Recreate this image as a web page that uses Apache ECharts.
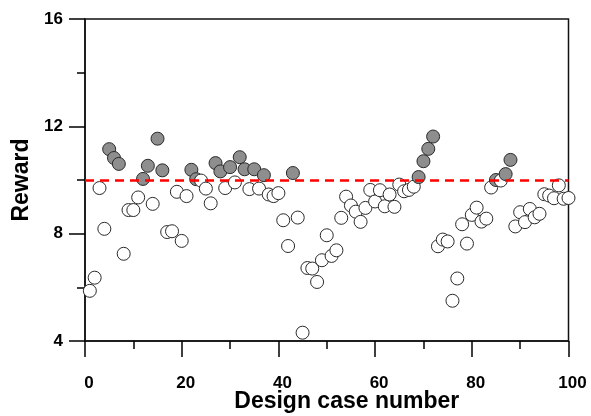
<!DOCTYPE html>
<html>
<head>
<meta charset="utf-8">
<script src="https://cdn.jsdelivr.net/npm/echarts@6/dist/echarts.min.js"></script>
<style>
  html, body { margin: 0; padding: 0; background: #fff; }
  #chart { width: 591px; height: 416px; }
</style>
</head>
<body>
<div id="chart"></div>
<script>
// Design case numbers
const cases = [
  1, 2, 3, 4, 5, 6, 7, 8, 9, 10,
  11, 12, 13, 14, 15, 16, 17, 18, 19, 20,
  21, 22, 23, 24, 25, 26, 27, 28, 29, 30,
  31, 32, 33, 34, 35, 36, 37, 38, 39, 40,
  41, 42, 43, 44, 45, 46, 47, 48, 49, 50,
  51, 52, 53, 54, 55, 56, 57, 58, 59, 60,
  61, 62, 63, 64, 65, 66, 67, 68, 69, 70,
  71, 72, 73, 74, 75, 76, 77, 78, 79, 80,
  81, 82, 83, 84, 85, 86, 87, 88, 89, 90,
  91, 92, 93, 94, 95, 96, 97, 98, 99, 100
];
// Reward of each design case
const rewards = [
  5.87, 6.36, 9.70, 8.18, 11.15, 10.82, 10.60, 7.25, 8.88, 8.88,
  9.35, 10.04, 10.53, 9.11, 11.54, 10.36, 8.06, 8.09, 9.56, 7.73,
  9.40, 10.38, 10.03, 9.98, 9.68, 9.13, 10.63, 10.32, 9.70, 10.48,
  9.91, 10.85, 10.40, 9.66, 10.40, 9.68, 10.18, 9.46, 9.40, 9.51,
  8.50, 7.54, 10.26, 8.60, 4.31, 6.72, 6.70, 6.20, 7.01, 7.94,
  7.17, 7.38, 8.59, 9.38, 9.05, 8.82, 8.44, 8.96, 9.63, 9.20,
  9.62, 9.02, 9.46, 9.00, 9.83, 9.58, 9.63, 9.75, 10.11, 10.70,
  11.16, 11.62, 7.53, 7.78, 7.71, 5.50, 6.33, 8.35, 7.63, 8.70,
  8.97, 8.45, 8.56, 9.72, 10.00, 9.98, 10.22, 10.75, 8.27, 8.80,
  8.43, 8.92, 8.61, 8.74, 9.47, 9.42, 9.32, 9.80, 9.30, 9.33
];
// Reference (threshold) reward shown by the red dashed line
const threshold = 10;
// Axis ranges / ticks
const xTicks = [0, 20, 40, 60, 80, 100];
const yTicks = [4, 8, 12, 16];

const FONT = '"Liberation Sans", Arial, sans-serif';
const chart = echarts.init(document.getElementById('chart'), null, { renderer: 'canvas' });

const points = cases.map((c, i) => ({
  value: [c, rewards[i]],
  itemStyle: { color: rewards[i] >= threshold ? '#8e8e8e' : '#ffffff' }
}));

function axisCommon() {
  return {
    axisLine: { show: true, onZero: false, lineStyle: { color: '#111111', width: 1.5 } },
    axisTick: { show: true, inside: false, length: 16, lineStyle: { color: '#000000', width: 1.5 } },
    minorTick: { show: true, splitNumber: 2, length: 8, lineStyle: { color: '#000000', width: 1.5 } },
    splitLine: { show: false },
    minorSplitLine: { show: false }
  };
}

chart.setOption({
  animation: false,
  backgroundColor: '#ffffff',
  grid: {
    left: 85, right: 22.5, top: 19, bottom: 75,
    containLabel: false,
    outerBoundsMode: 'none',
    show: true, borderColor: '#111', borderWidth: 1.5, backgroundColor: 'transparent'
  },
  xAxis: Object.assign(axisCommon(), {
    type: 'value',
    min: xTicks[0], max: xTicks[xTicks.length - 1], interval: 20,
    name: 'Design case number',
    nameLocation: 'middle',
    nameMoveOverlap: false,
    nameGap: 49,
    nameTextStyle: { fontFamily: FONT, fontWeight: 'bold', fontSize: 23, color: '#000', padding: [0, 0, 0, 40] },
    axisLabel: { fontFamily: FONT, fontWeight: 'bold', fontSize: 17, color: '#000', margin: 34, padding: [0, 0, 0, 8] }
  }),
  yAxis: Object.assign(axisCommon(), {
    type: 'value',
    min: yTicks[0], max: yTicks[yTicks.length - 1], interval: 4,
    name: 'Reward',
    nameLocation: 'middle',
    nameGap: 50,
    nameTextStyle: { fontFamily: FONT, fontWeight: 'bold', fontSize: 23, color: '#000' },
    axisLabel: { fontFamily: FONT, fontWeight: 'bold', fontSize: 17, color: '#000', margin: 22 }
  }),
  series: [{
    type: 'scatter',
    data: points,
    symbol: 'circle',
    symbolSize: 13,
    clip: false,
    itemStyle: { borderColor: '#2a2a2a', borderWidth: 1, opacity: 1 },
    emphasis: { disabled: true },
    markLine: {
      silent: true,
      symbol: ['none', 'none'],
      label: { show: false },
      lineStyle: { color: '#ff0000', type: [9, 6], width: 2.5 },
      data: [{ yAxis: threshold }]
    }
  }]
});
</script>
</body>
</html>
